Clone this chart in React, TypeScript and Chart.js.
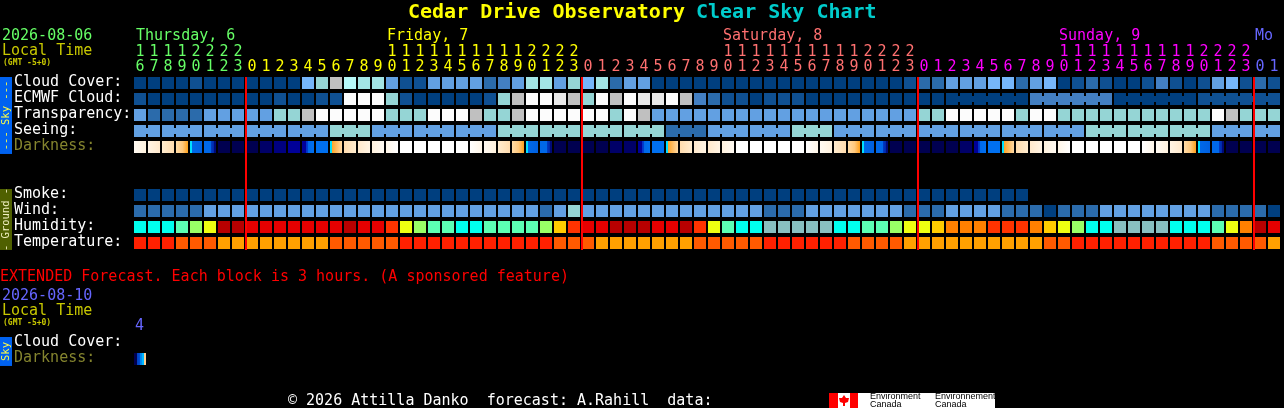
import React, { useEffect, useRef } from "react";
import { Chart, registerables } from "chart.js";

Chart.register(...registerables);

// ---------- data ----------
const hours = [
  16, 17, 18, 19, 20, 21, 22, 23,
  0, 1, 2, 3, 4, 5, 6, 7, 8, 9, 10, 11, 12, 13, 14, 15, 16, 17, 18, 19, 20, 21, 22, 23,
  0, 1, 2, 3, 4, 5, 6, 7, 8, 9, 10, 11, 12, 13, 14, 15, 16, 17, 18, 19, 20, 21, 22, 23,
  0, 1, 2, 3, 4, 5, 6, 7, 8, 9, 10, 11, 12, 13, 14, 15, 16, 17, 18, 19, 20, 21, 22, 23,
  0, 1,
];
const dayNames = ["Thursday, 6", "Friday, 7", "Saturday, 8", "Sunday, 9", "Mo"];
const dayStartCols = [0, 18, 42, 66, 80];
const midnightCols = [8, 32, 56, 80];

const rowNames = ["Cloud Cover:", "ECMWF Cloud:", "Transparency:", "Seeing:", "Darkness:", "Smoke:", "Wind:", "Humidity:", "Temperature:", "Cloud Cover:", "Darkness:"];

const cloudCover = [
  0, 0, 0, 0, 1, 0, 0, 0,
  0, 0, 0, 0, 5, 6, 9, 8,
  7, 7, 4, 1, 1, 4, 4, 4,
  4, 2, 3, 4, 7, 7, 4, 6,
  5, 7, 2, 4, 4, 0, 0, 0,
  0, 0, 0, 0, 0, 0, 0, 0,
  0, 0, 0, 0, 0, 0, 0, 1,
  2, 2, 4, 4, 4, 5, 5, 2,
  4, 5, 0, 1, 2, 1, 0, 0,
  1, 3, 1, 0, 1, 4, 5, 1,
  2, 1,
];
const ecmwfCloud = [
  1, 0, 0, 0, 0, 0, 0, 0,
  0, 0, 1, 0, 0, 1, 1, 11,
  11, 11, 6, 1, 0, 0, 0, 0,
  0, 1, 6, 9, 11, 11, 10, 9,
  6, 11, 9, 11, 10, 10, 11, 9,
  3, 2, 1, 1, 0, 1, 1, 1,
  0, 0, 0, 0, 0, 0, 0, 0,
  0, 0, 0, 0, 0, 0, 0, 0,
  3, 3, 3, 3, 3, 3, 0, 0,
  0, 0, 0, 0, 1, 1, 1, 1,
  1, 1,
];
const transparency = [
  4, 2, 2, 2, 2, 4, 4, 4,
  4, 4, 6, 6, 9, 11, 11, 11,
  11, 11, 6, 6, 6, 11, 11, 11,
  9, 6, 6, 9, 11, 11, 11, 11,
  11, 11, 6, 11, 9, 4, 4, 4,
  4, 4, 4, 4, 4, 4, 4, 4,
  4, 4, 4, 4, 4, 4, 4, 4,
  6, 6, 11, 11, 11, 11, 11, 6,
  11, 11, 6, 6, 6, 6, 6, 6,
  6, 6, 6, 6, 6, 11, 9, 6,
  6, 6,
];
const seeing = [
  4, 4, 4, 4, 4, 4, 4, 4,
  4, 4, 4, 4, 4, 4, 6, 6,
  6, 4, 4, 4, 4, 4, 4, 4,
  4, 4, 6, 6, 6, 6, 6, 6,
  6, 6, 6, 6, 6, 6, 2, 2,
  2, 4, 4, 4, 4, 4, 4, 6,
  6, 6, 4, 4, 4, 4, 4, 4,
  4, 4, 4, 4, 4, 4, 4, 4,
  4, 4, 4, 4, 6, 6, 6, 6,
  6, 6, 6, 6, 6, 4, 4, 4,
  4, 4,
];
const darkness = [
  "c1", "c2", "c3", "set", "tw1", "tw2", "n0", "n0",
  "n0", "n1", "n2", "n3", "tw3", "blue", "rise", "r3",
  "r2", "r1", "r0", "w", "w", "w", "w", "w",
  "c0", "c1", "c3", "set", "tw1", "tw2", "n0", "n0",
  "n0", "n0", "n1", "n1", "tw3", "blue", "rise", "r3",
  "r2", "r2", "r1", "w", "w", "w", "w", "w",
  "c0", "c1", "c3", "set", "tw1", "tw2", "n0", "n0",
  "n0", "n0", "n0", "n1", "tw3", "blue", "rise", "r3",
  "r2", "r1", "r0", "w", "w", "w", "w", "w",
  "c0", "c1", "c2", "set", "tw1", "tw2", "n0", "n0",
  "n0", "n0",
];
const smoke = [
  0, 0, 0, 0, 0, 0, 0, 0, 0, 0, 0, 0, 0, 0, 0, 0,
  0, 0, 0, 0, 0, 0, 0, 0, 0, 0, 0, 0, 0, 0, 0, 0,
  0, 0, 0, 0, 0, 0, 0, 0, 0, 0, 0, 0, 0, 0, 0, 0,
  0, 0, 0, 0, 0, 0, 0, 0, 0, 0, 0, 0, 0, 0, 0, 0,
];
const wind = [
  2, 2, 2, 2, 2, 4, 4, 4,
  4, 4, 4, 4, 4, 4, 4, 4,
  4, 4, 4, 4, 4, 4, 4, 4,
  4, 4, 4, 4, 4, 2, 4, 6,
  4, 4, 4, 4, 4, 4, 4, 4,
  4, 4, 4, 4, 4, 2, 2, 2,
  4, 4, 4, 4, 4, 4, 4, 2,
  2, 2, 4, 4, 4, 4, 2, 2,
  2, 0, 2, 2, 2, 4, 4, 4,
  4, 4, 4, 4, 4, 2, 2, 2,
  2, 0,
];
const humidity = [
  0, 0, 0, 1, 2, 3, 8, 8,
  7, 7, 7, 7, 7, 7, 7, 8,
  7, 7, 6, 3, 2, 1, 1, 0,
  0, 1, 1, 1, 1, 2, 4, 6,
  7, 7, 8, 8, 8, 7, 7, 8,
  6, 3, 1, 0, 0, 9, 9, 9,
  9, 9, 0, 0, 1, 1, 2, 3,
  3, 4, 5, 5, 5, 6, 6, 6,
  5, 4, 3, 2, 0, 0, 9, 9,
  9, 9, 0, 0, 0, 1, 3, 5,
  8, 7,
];
const temperature = [
  0, 0, 0, 1, 1, 1, 2, 2,
  2, 2, 2, 2, 2, 2, 1, 1,
  1, 1, 1, 0, 0, 0, 0, 0,
  0, 0, 0, 0, 0, 0, 1, 1,
  1, 2, 2, 2, 2, 2, 2, 2,
  1, 1, 1, 1, 1, 0, 0, 0,
  0, 0, 0, 1, 1, 1, 1, 2,
  2, 2, 2, 2, 2, 2, 2, 2,
  2, 1, 1, 0, 0, 0, 0, 0,
  0, 0, 0, 0, 0, 1, 1, 1,
  1, 2,
];
const extendedDarkness = ["ext"];
const seeingGroupStarts = [2, 5, 8, 11, 14, 17, 20, 23, 26, 29, 32, 35, 38, 41, 44, 47, 50, 53, 56, 59, 62, 65, 68, 71, 74, 77, 80];
const ecmwfGroupStarts = [58, 64, 70, 76];

// ---------- styles ----------
const skyPalette = ["#003f7f", "#0f5092", "#2b6bab", "#437fc2", "#62a0e2", "#76b6fa", "#95d5d5", "#a3e5e5", "#b6f8f8", "#c0c0c0", "#e9e9e9", "#fcfcfc"];
const humidityPalette = ["#00ffee", "#5cffb4", "#99ff66", "#eeff11", "#ffcc00", "#ff8000", "#ff3300", "#e60000", "#b80000", "#88c0c0"];
const temperaturePalette = ["#ff2000", "#ff5a00", "#ffa000"];
const darkStops: Record<string, [number, string][]> = {
  w: [[0, "#ffffff"], [1, "#ffffff"]],
  c0: [[0, "#ffffff"], [1, "#fff6e8"]],
  c1: [[0, "#fffaf2"], [1, "#fff2de"]],
  c2: [[0, "#fff4e4"], [1, "#ffe9cc"]],
  c3: [[0, "#ffeccf"], [1, "#ffdcae"]],
  set: [[0, "#ffdba6"], [0.55, "#ffc87c"], [1, "#ffa01a"]],
  tw1: [[0, "#00e0ff"], [0.16, "#00e0ff"], [0.17, "#0068e8"], [1, "#0060e0"]],
  tw2: [[0, "#0068e8"], [0.6, "#0068e8"], [0.62, "#0038c0"], [0.82, "#0028a8"], [0.84, "#000a78"], [1, "#000a78"]],
  n0: [[0, "#000050"], [1, "#000050"]],
  n1: [[0, "#000068"], [1, "#000068"]],
  n2: [[0, "#000080"], [1, "#000080"]],
  n3: [[0, "#000098"], [1, "#000098"]],
  tw3: [[0, "#000098"], [0.33, "#000098"], [0.34, "#0030c8"], [0.5, "#0040d0"], [0.52, "#0068e8"], [1, "#0070f0"]],
  blue: [[0, "#0070f0"], [1, "#0070f0"]],
  rise: [[0, "#00e0ff"], [0.16, "#00e0ff"], [0.17, "#ffa428"], [1, "#ffd9a4"]],
  r3: [[0, "#ffdcae"], [1, "#ffeccf"]],
  r2: [[0, "#ffe9cc"], [1, "#fff4e4"]],
  r1: [[0, "#fff2de"], [1, "#fffaf2"]],
  r0: [[0, "#fff6e8"], [1, "#ffffff"]],
  ext: [[0, "#000050"], [0.24, "#000050"], [0.25, "#0040c0"], [0.5, "#0050d8"], [0.51, "#0080f0"], [0.66, "#0090f0"], [0.67, "#00b8ff"], [0.82, "#00b8ff"], [0.83, "#ffd090"], [1, "#ffd090"]],
};
const dayColors = ["#66ff66", "#ffff00", "#ff7070", "#ff00ff", "#6666ff"];
const tickColorFor = (i: number) => (i < 8 ? dayColors[0] : i < 32 ? dayColors[1] : i < 56 ? dayColors[2] : i < 80 ? dayColors[3] : dayColors[4]);

const MONO = '"DejaVu Sans Mono", "Liberation Mono", monospace';
const ROW = { cloud: 0, ecmwf: 1, trans: 2, seeing: 3, dark: 4, smoke: 7, wind: 8, hum: 9, temp: 10, extCloud: 16.25, extDark: 17.25 };
const CELL = 0.75;
const rowLabelRows = [ROW.cloud, ROW.ecmwf, ROW.trans, ROW.seeing, ROW.dark, ROW.smoke, ROW.wind, ROW.hum, ROW.temp, ROW.extCloud, ROW.extDark];

const span = (row: number, values: any[]) => values.map((v) => (v === null ? null : [row, row + CELL]));

function darkFill(tokens: string[]) {
  return (ctx: any) => {
    const i = ctx.dataIndex;
    if (i === undefined || !tokens[i] || !ctx.chart.scales.x) return "#000";
    const x = ctx.chart.scales.x.getPixelForValue(i);
    if (!Number.isFinite(x)) return "#000";
    const g = ctx.chart.ctx.createLinearGradient(x - 6, 0, x + 6, 0);
    darkStops[tokens[i]].forEach(([p, c]) => g.addColorStop(p, c));
    return g;
  };
}

const rowSet = (label: string, row: number, values: any[], bg: any) => ({
  label,
  data: span(row, values),
  backgroundColor: bg,
  maxBarThickness: 12,
  barPercentage: 1,
  categoryPercentage: 12 / 14,
  grouped: false,
  borderWidth: 0,
  borderSkipped: false,
});
const fromPalette = (values: number[], palette: string[]) => values.map((v) => palette[v]);

const overlayPlugin = {
  id: "overlay",
  afterDatasetsDraw(chart: any) {
    const { ctx, scales } = chart;
    const x = scales.x;
    const y = scales.y;
    ctx.save();
    // joined block connectors (Seeing, ECMWF long range)
    const joins = (row: number, values: number[], starts: number[], from: number) => {
      for (let i = from; i < hours.length - 1; i++) {
        if (starts.includes(i + 1)) continue;
        ctx.fillStyle = skyPalette[values[i]];
        const top = y.getPixelForValue(row) + 3;
        ctx.fillRect(x.getPixelForValue(i) + 6, top, 2, 6);
      }
    };
    joins(ROW.seeing, seeing, seeingGroupStarts, 0);
    joins(ROW.ecmwf, ecmwfCloud, ecmwfGroupStarts, 58);
    // midnight markers
    ctx.fillStyle = "#ff0000";
    const lineTop = y.getPixelForValue(ROW.cloud);
    const lineBottom = y.getPixelForValue(ROW.temp + CELL) + 1;
    midnightCols.forEach((c) => {
      ctx.fillRect(x.getPixelForValue(c) - 7, lineTop, 2, lineBottom - lineTop);
    });
    ctx.restore();
  },
  afterDraw(chart: any) {
    const { ctx, scales } = chart;
    const x = scales.x;
    const y = scales.y;
    ctx.save();
    ctx.textBaseline = "middle";
    ctx.textAlign = "left";
    const text = (s: string, px: number, py: number, color: string, font: string) => {
      ctx.font = font;
      ctx.fillStyle = color;
      ctx.fillText(s, px, py);
    };
    const F15 = `15px ${MONO}`;
    const SMALL = `bold 8px ${MONO}`;
    // title
    const TITLE = `bold 20px ${MONO}`;
    text("Cedar Drive Observatory", 408, 13, "#ffff00", TITLE);
    text("Clear Sky Chart", 696, 13, "#00cccc", TITLE);
    // header block
    text("2026-08-06", 2, 36, "#66ff66", F15);
    text("Local Time", 2, 51, "#c8c800", F15);
    text("(GMT -5+0)", 3, 63, "#c8c800", SMALL);
    dayNames.forEach((d, i) => {
      text(d, x.getPixelForValue(dayStartCols[i]) - 6 + (i === 0 ? 2 : 1), 36, dayColors[i], F15);
    });
    // extended block
    text("EXTENDED Forecast. Each block is 3 hours. (A sponsored feature)", 0, 277, "#ff0000", F15);
    text("2026-08-10", 2, 296, "#6666ff", F15);
    text("Local Time", 2, 311, "#c8c800", F15);
    text("(GMT -5+0)", 3, 323, "#c8c800", SMALL);
    text("4", x.getPixelForValue(0) - 5, 326, "#6666ff", F15);
    // footer
    text("\u00a9 2026 Attilla Danko  forecast: A.Rahill  data:", 288, 401, "#ffffff", F15);
    // side bars
    const side = (row0: number, row1: number, color: string, label: string, txt: string) => {
      const t = y.getPixelForValue(row0);
      const b = y.getPixelForValue(row1);
      ctx.fillStyle = color;
      ctx.fillRect(0, t, 12, b - t);
      ctx.save();
      ctx.translate(6, (t + b) / 2);
      ctx.rotate(-Math.PI / 2);
      ctx.textAlign = "center";
      ctx.font = `10.5px ${MONO}`;
      ctx.fillStyle = txt;
      ctx.fillText(label, 0, 0);
      ctx.restore();
    };
    side(ROW.cloud, ROW.dark + CELL + 0.06, "#0062f0", "--- Sky ---", "#ffff44");
    side(ROW.smoke, ROW.temp + CELL + 0.06, "#4f6000", "- Ground -", "#f0f0c0");
    side(ROW.extCloud, ROW.extDark + CELL + 0.06, "#0062f0", "Sky", "#ffff44");
    // credit logo
    ctx.fillStyle = "#ffffff";
    ctx.fillRect(829, 393, 166, 15);
    ctx.fillStyle = "#ff0000";
    ctx.fillRect(829, 393, 9, 15);
    ctx.fillRect(850, 393, 8, 15);
    ctx.beginPath();
    ctx.moveTo(844, 395);
    ctx.lineTo(846, 398);
    ctx.lineTo(849, 398);
    ctx.lineTo(848, 402);
    ctx.lineTo(845, 403);
    ctx.lineTo(845, 406);
    ctx.lineTo(843, 406);
    ctx.lineTo(843, 403);
    ctx.lineTo(840, 402);
    ctx.lineTo(839, 398);
    ctx.lineTo(842, 398);
    ctx.closePath();
    ctx.fill();
    const LOGO = '9px "Liberation Sans", Arial, sans-serif';
    text("Environment", 870, 397, "#000000", LOGO);
    text("Canada", 870, 405, "#000000", LOGO);
    text("Environnement", 935, 397, "#000000", LOGO);
    text("Canada", 935, 405, "#000000", LOGO);
    ctx.restore();
  },
};

export default function App() {
  const ref = useRef<HTMLCanvasElement | null>(null);
  useEffect(() => {
    document.body.style.margin = "0";
    document.body.style.background = "#000";
    const chart = new Chart(ref.current as HTMLCanvasElement, {
      type: "bar",
      plugins: [overlayPlugin],
      data: {
        labels: hours.map(String),
        datasets: [
          rowSet("Cloud Cover", ROW.cloud, cloudCover, fromPalette(cloudCover, skyPalette)),
          rowSet("ECMWF Cloud", ROW.ecmwf, ecmwfCloud, fromPalette(ecmwfCloud, skyPalette)),
          rowSet("Transparency", ROW.trans, transparency, fromPalette(transparency, skyPalette)),
          rowSet("Seeing", ROW.seeing, seeing, fromPalette(seeing, skyPalette)),
          rowSet("Darkness", ROW.dark, darkness, darkFill(darkness)),
          rowSet("Smoke", ROW.smoke, smoke, fromPalette(smoke, skyPalette)),
          rowSet("Wind", ROW.wind, wind, fromPalette(wind, skyPalette)),
          rowSet("Humidity", ROW.hum, humidity, fromPalette(humidity, humidityPalette)),
          rowSet("Temperature", ROW.temp, temperature, fromPalette(temperature, temperaturePalette)),
          rowSet("Extended Darkness", ROW.extDark, extendedDarkness, darkFill(extendedDarkness)),
        ] as any,
      },
      options: {
        animation: false,
        responsive: false,
        devicePixelRatio: 1,
        layout: { padding: { left: 14, right: 3, top: 0, bottom: 35 } },
        plugins: { legend: { display: false }, title: { display: false }, tooltip: { enabled: false } },
        scales: {
          x: {
            position: "top",
            grid: { display: false },
            border: { display: false },
            afterFit: (s: any) => { s.height = 73; },
            ticks: {
              autoSkip: false,
              maxRotation: 0,
              minRotation: 0,
              padding: -10,
              color: (c: any) => tickColorFor(c.index),
              font: { family: MONO, size: 15, lineHeight: 1 },
              callback(_v: any, i: number) {
                const h = hours[i];
                return [h >= 10 ? String(Math.floor(h / 10)) : " ", String(h % 10)];
              },
            },
          },
          y: {
            reverse: true,
            min: -0.25,
            max: 18.5,
            grid: { display: false },
            border: { display: false },
            afterFit: (s: any) => { s.width = 119; },
            afterBuildTicks: (s: any) => {
              s.ticks = rowLabelRows.map((r) => ({ value: r + 0.31 }));
            },
            ticks: {
              autoSkip: false,
              crossAlign: "far",
              padding: 0,
              font: { family: MONO, size: 15 },
              color: (c: any) => (rowNames[c.index] === "Darkness:" ? "#84842e" : "#ffffff"),
              callback(_v: any, i: number) {
                return rowNames[i];
              },
            },
          },
        },
      } as any,
    });
    return () => chart.destroy();
  }, []);
  return (
    <div style={{ position: "fixed", left: 0, top: 0, width: 1284, height: 408, background: "#000", overflow: "hidden" }}>
      <canvas ref={ref} width={1284} height={408} style={{ display: "block" }} />
    </div>
  );
}
